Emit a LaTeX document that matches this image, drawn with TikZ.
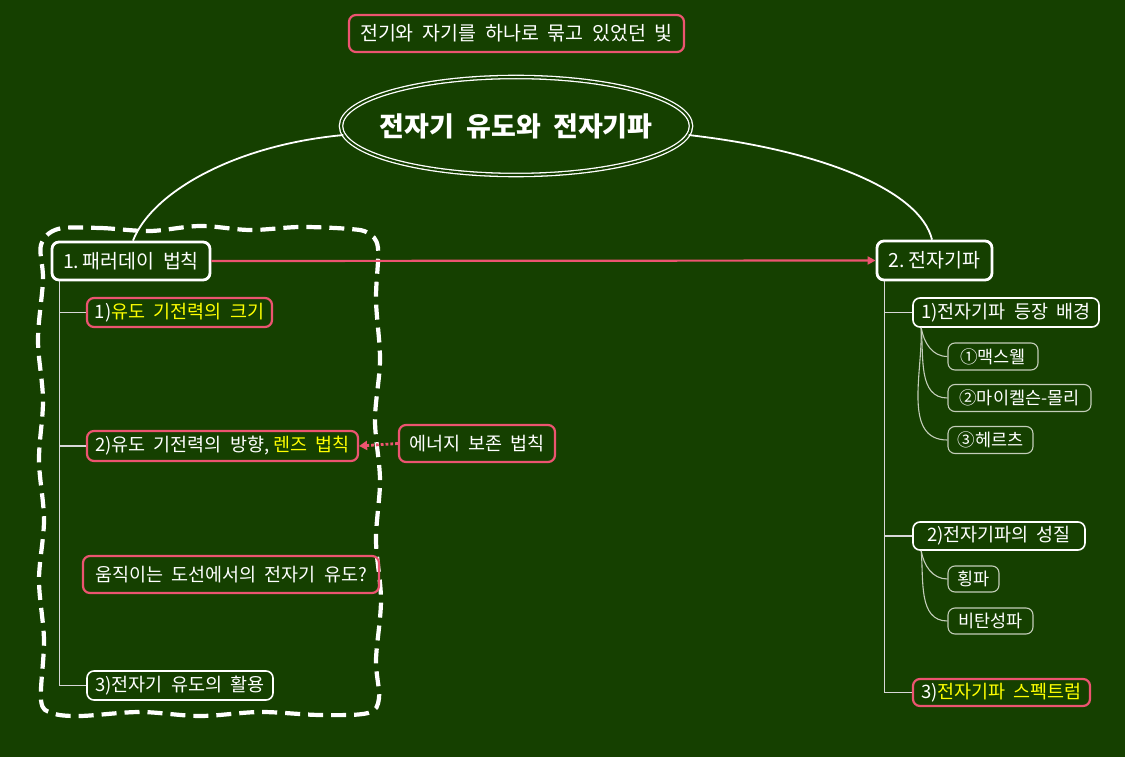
\documentclass[tikz,border=0pt]{standalone}
\usepackage{fontspec}
\setmainfont{Noto Sans CJK KR}
\usetikzlibrary{shapes.geometric,arrows.meta}
\definecolor{bg}{RGB}{21,64,0}
\definecolor{pinkb}{RGB}{236,84,112}
\definecolor{subb}{RGB}{195,205,185}
\definecolor{ylw}{RGB}{255,255,0}
\definecolor{treel}{RGB}{215,215,215}
\tikzset{
  base/.style={rounded corners=7pt, inner sep=0pt, text=white, align=center},
  mainbox/.style={base, draw=white, line width=2.8pt, font=\fontsize{19.5}{22}\selectfont},
  pinkbox/.style={base, draw=pinkb, line width=2.2pt, font=\fontsize{18.5}{21}\selectfont},
  whitebox/.style={base, draw=white, line width=1.6pt, font=\fontsize{18.5}{21}\selectfont},
  subbox/.style={base, draw=subb, line width=1.1pt, font=\fontsize{17.5}{20}\selectfont},
  tree/.style={draw=treel, line width=1.4pt},
  subtree/.style={draw=subb, line width=1.1pt},
}
\begin{document}
\begin{tikzpicture}[x=1pt,y=-1pt]
\fill[bg] (0,0) rectangle (1125,757);
\useasboundingbox (0,0) rectangle (1125,757);

% top box
\node[pinkbox, minimum width=335pt, minimum height=37pt, font=\fontsize{19.5}{22}\selectfont] (top) at (516.5,33.5) {전기와\ \ 자기를\ \ 하나로\ \ 묶고\ \ 있었던\ \ 빛};

% title ellipse
\node[ellipse, draw=white, double=bg, double distance=2pt, line width=1.3pt, minimum width=350pt, minimum height=98pt, inner xsep=-20pt, inner ysep=0pt, text=white, font=\fontsize{27}{30}\selectfont\bfseries] (title) at (516,126) {전자기\ \ 유도와\ \ 전자기파};

% dashed wavy frame
\draw[white, line width=4.2pt, dash pattern=on 15pt off 8pt, line join=round]
  plot[smooth cycle, tension=0.55] coordinates {
    (58,229) (100,228) (150,231) (200,226) (250,230) (300,227) (350,229) (368,233)
    (378,248) (376,300) (380,360) (375,420) (380,480) (376,540) (381,600) (376,660) (379,698)
    (368,713) (320,715) (260,712) (200,716) (140,712) (80,716) (52,713)
    (41,700) (44,640) (39,580) (44,520) (39,460) (43,400) (38,340) (43,280) (41,245)};

% main nodes
\node[mainbox, minimum width=158pt, minimum height=38pt] (n1) at (131,261) {1.\,패러데이\ \ 법칙};
\node[mainbox, minimum width=115pt, minimum height=39pt] (n2) at (934.5,260.5) {2.\,전자기파};

% curves from title
\draw[white, line width=1.8pt] (title.183) .. controls (235,145) and (152,192) .. (n1.north -| 133,0);
\draw[white, line width=1.8pt] (title.-3) .. controls (820,150) and (920,190) .. (n2.north -| 932,0);

% left children
\node[pinkbox, minimum width=185pt, minimum height=29pt] (a1) at (179.5,312.5) {1)\textcolor{ylw}{유도\ \ 기전력의\ \ 크기}};
\node[pinkbox, minimum width=271pt, minimum height=30pt] (a2) at (222.5,446) {2)유도\ \ 기전력의\ \ 방향,\ \textcolor{ylw}{렌즈\ \ 법칙}};
\node[pinkbox, minimum width=296pt, minimum height=37pt] (q) at (231,574.5) {움직이는\ \ 도선에서의\ \ 전자기\ \ 유도?};
\node[whitebox, minimum width=186pt, minimum height=29pt] (a3) at (180,685.5) {3)전자기\ \ 유도의\ \ 활용};
\node[pinkbox, minimum width=156pt, minimum height=37pt] (en) at (477,443.5) {에너지\ \ 보존\ \ 법칙};

\draw[tree] (n1.south west) ++(9,0) |- (a1.west);
\draw[tree] (n1.south west) ++(9,0) |- (a2.west);
\draw[tree] (n1.south west) ++(9,0) |- (a3.west);

% arrows
\draw[pinkb, line width=2.2pt, -{Triangle[length=8pt,width=8pt]}] (n1.east) -- (n2.west);
\draw[pinkb, line width=2.8pt, dotted, -{Triangle[length=8pt,width=9pt]}] (en.west) -- (a2.east);

% right children
\node[whitebox, minimum width=186pt, minimum height=29pt] (b1) at (1006,312.5) {1)전자기파\ \ 등장\ \ 배경};
\node[subbox, minimum width=90pt, minimum height=27pt] (c1) at (993,356.5) {①맥스웰};
\node[subbox, minimum width=143pt, minimum height=27pt] (c2) at (1019.5,398) {②마이켈슨-몰리};
\node[subbox, minimum width=85pt, minimum height=27pt] (c3) at (990.5,440) {③헤르츠};

\node[whitebox, minimum width=172pt, minimum height=28pt] (b2) at (999,536) {2)전자기파의\ \ 성질};
\node[subbox, minimum width=51pt, minimum height=26pt] (d1) at (973.5,579) {횡파};
\node[subbox, minimum width=85pt, minimum height=26pt] (d2) at (990.5,621) {비탄성파};

\node[pinkbox, minimum width=177pt, minimum height=27pt] (b3) at (1001.5,692.5) {3)\textcolor{ylw}{전자기파\ \ 스펙트럼}};

\draw[tree] (n2.south west) ++(9,0) |- (b1.west);
\draw[tree] (n2.south west) ++(9,0) |- (b2.west);
\draw[tree] (n2.south west) ++(9,0) |- (b3.west);

\draw[subtree] (b1.south west) ++(9,0) to[out=-80,in=180] (c1.west);
\draw[subtree] (b1.south west) ++(9,0) to[out=-85,in=180] (c2.west);
\draw[subtree] (b1.south west) ++(9,0) to[out=-88,in=180] (c3.west);
\draw[subtree] (b2.south west) ++(9,0) to[out=-80,in=180] (d1.west);
\draw[subtree] (b2.south west) ++(9,0) to[out=-85,in=180] (d2.west);
\end{tikzpicture}
\end{document}
